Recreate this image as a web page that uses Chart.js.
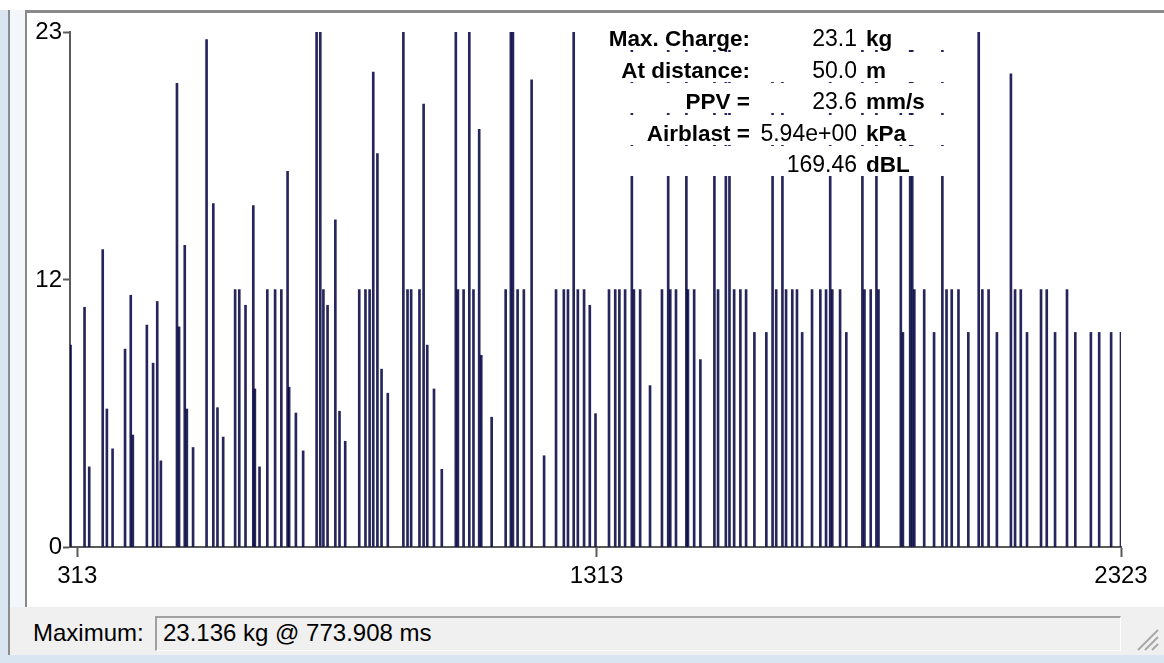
<!DOCTYPE html>
<html>
<head>
<meta charset="utf-8">
<script src="https://cdn.jsdelivr.net/npm/chart.js@4"></script>
<style>
  html, body { margin: 0; padding: 0; }
  body {
    width: 1164px; height: 663px; position: relative; overflow: hidden;
    background: #dae5f2;
    font-family: "Liberation Sans", Arial, sans-serif;
  }
  #topband { position: absolute; left: 0; top: 0; width: 1164px; height: 10px; background: #ffffff; }
  #win {
    position: absolute; left: 8px; top: 10px; width: 1156px; height: 645px;
    background: #f0f0f0; border-left: 2px solid #8c8c8c; box-sizing: border-box;
  }
  #margin { position: absolute; left: 10px; top: 10px; width: 15px; height: 597px; background: #f3f7fb; }
  #panel {
    position: absolute; left: 25px; top: 10px; width: 1150px; height: 597px;
    background: #ffffff; border-top: 3px solid #8a8a8a; border-left: 2px solid #8a8a8a;
    box-sizing: border-box;
  }
  #chart { position: absolute; left: 0; top: 0; }
  #maxLabel {
    position: absolute; left: 33px; top: 619px; font-size: 24px; color: #000;
  }
  #maxBox {
    position: absolute; left: 155px; top: 616px; width: 966px; height: 35px;
    box-sizing: border-box; border-top: 2px solid #a0a0a0; border-left: 2px solid #a0a0a0;
    border-right: 1px solid #ffffff; border-bottom: 1px solid #ffffff;
    background: #f0f0f0; font-size: 24px; color: #000; padding: 1px 0 0 6px;
  }
  #grip { position: absolute; left: 1132px; top: 624px; }
</style>
</head>
<body>
<div id="topband"></div>
<div id="win"></div>
<div id="margin"></div>
<div id="panel"></div>
<canvas id="chart" width="1164" height="607"></canvas>
<div id="maxLabel">Maximum:</div>
<div id="maxBox">23.136 kg @ 773.908 ms</div>
<svg id="grip" width="28" height="28">
  <g stroke="#a8a8a8" stroke-width="2">
    <line x1="26" y1="6" x2="6" y2="26"/>
    <line x1="26" y1="13" x2="13" y2="26"/>
    <line x1="26" y1="20" x2="20" y2="26"/>
  </g>
</svg>
<script>
// Firing times (ms) and charge weight per delay (kg)
const times = [
  300, 327, 336, 362, 370, 381, 405, 416, 420, 447, 459, 467, 474,
  505, 509, 520, 524, 536, 562, 575, 583, 594, 617, 625, 637,
  652, 655, 664, 679, 694, 706, 718, 721, 734, 748, 773.908, 781,
  787, 795, 810, 818, 829, 856, 868, 876, 883, 891, 899, 911,
  941, 949, 956, 972, 980, 987, 1000, 1015, 1042, 1046, 1057, 1068,
  1076, 1087, 1091, 1111, 1138, 1148, 1152, 1161, 1173, 1188, 1212, 1235,
  1250, 1258, 1269, 1277, 1289, 1300, 1311, 1337, 1349, 1357, 1368, 1381,
  1385, 1397, 1416, 1439, 1451, 1455, 1466, 1486, 1489, 1501, 1513, 1540,
  1547, 1562, 1569, 1578, 1590, 1601, 1617, 1640, 1652, 1659, 1671, 1678,
  1690, 1699, 1709, 1728, 1744, 1755, 1763, 1767, 1782, 1794, 1825, 1829,
  1841, 1852, 1856, 1899, 1903, 1917, 1921, 1925, 1944, 1963, 1979, 1987,
  1997, 2010, 2029, 2049, 2056, 2068, 2084, 2111, 2119, 2130, 2142, 2169,
  2180, 2196, 2219, 2235, 2265, 2281, 2304, 2323
];
const charges = [
  9.07, 10.77, 3.6, 13.36, 6.2, 4.41, 8.89, 11.31, 5.03, 9.97, 8.26, 11.03, 3.87,
  20.83, 9.89, 13.55, 6.2, 4.47, 22.8, 15.43, 6.26, 4.94, 11.57, 11.57, 10.86,
  15.34, 7.1, 3.6, 11.57, 11.57, 11.57, 16.88, 7.18, 6.02, 4.32, 23.136, 23.136,
  11.57, 10.86, 14.7, 6.1, 4.75, 11.57, 11.57, 11.57, 21.34, 17.67, 7.99, 6.91,
  23.136, 11.57, 11.57, 11.57, 19.9, 9.07, 7.1, 3.49, 23.136, 11.57, 11.57, 23.136,
  11.57, 18.76, 8.61, 5.83, 11.57, 23.136, 23.136, 11.57, 11.57, 20.99, 4.1, 11.57,
  11.57, 11.57, 23.136, 11.57, 11.57, 10.86, 5.99, 11.57, 11.57, 11.57, 11.57, 23.136,
  11.57, 11.57, 7.25, 11.57, 23.136, 11.57, 11.57, 23.136, 11.57, 11.57, 8.42, 23.136,
  11.57, 23.136, 23.136, 11.57, 11.57, 11.57, 9.64, 9.64, 21.5, 11.57, 21.5, 11.57,
  11.57, 11.57, 9.64, 11.57, 11.57, 11.57, 21.5, 11.57, 11.57, 9.64, 23.136, 11.57,
  11.57, 23.136, 11.57, 20.0, 9.64, 23.136, 23.136, 11.57, 11.57, 9.64, 23.136, 11.57,
  11.57, 11.57, 9.64, 23.136, 11.57, 11.57, 9.64, 21.26, 11.57, 11.57, 9.64, 11.57,
  11.57, 9.64, 11.57, 9.64, 9.64, 9.64, 9.64, 9.64
];
const xTicks = [313, 1313, 2323];
const yTicks = [0, 12, 23.136];

// Summary block printed inside the plot
const infoLabels = ['Max. Charge:', 'At distance:', 'PPV =', 'Airblast =', ''];
const infoValues = ['23.1', '50.0', '23.6', '5.94e+00', '169.46'];
const infoUnits  = ['kg', 'm', 'mm/s', 'kPa', 'dBL'];

const FONT = '"Liberation Sans", Arial, sans-serif';

const infoBox = {
  id: 'infoBox',
  afterDatasetsDraw(chart) {
    const ctx = chart.ctx;
    ctx.save();
    const left = 604, right = 948, rowH = 30;
    for (let i = 0; i < infoValues.length; i++) {
      const top = Math.round(20 + 31.5 * i);
      ctx.fillStyle = '#ffffff';
      ctx.fillRect(left, top, right - left, rowH);
      const base = top + 26;
      ctx.fillStyle = '#000000';
      ctx.textBaseline = 'alphabetic';
      ctx.font = 'bold 22.5px ' + FONT;
      ctx.textAlign = 'right';
      if (infoLabels[i]) ctx.fillText(infoLabels[i], 750, base);
      ctx.font = '23px ' + FONT;
      ctx.fillText(infoValues[i], 857, base);
      ctx.font = 'bold 22.5px ' + FONT;
      ctx.textAlign = 'left';
      ctx.fillText(infoUnits[i], 866, base);
    }
    ctx.restore();
  }
};

new Chart(document.getElementById('chart'), {
  type: 'bar',
  data: {
    datasets: [{
      data: times.map((t, i) => ({ x: t, y: charges[i] })),
      backgroundColor: 'rgba(0, 0, 64, 0.85)',
      borderWidth: 0,
      barThickness: 2,
      grouped: false
    }]
  },
  options: {
    responsive: false,
    animation: false,
    devicePixelRatio: 1,
    layout: { padding: { top: 32, right: 43, left: 0, bottom: 0 } },
    plugins: { legend: { display: false }, tooltip: { enabled: false } },
    scales: {
      x: {
        type: 'linear', min: 299, max: 2323, offset: false,
        afterBuildTicks(s) { s.ticks = xTicks.map(v => ({ value: v })); },
        afterFit(s) { s.height = 60; },
        grid: { offset: false, drawOnChartArea: false, drawTicks: true, tickLength: 10, tickWidth: 2, color: '#5a5a5a' },
        border: { display: true, color: '#5a5a5a', width: 2 },
        ticks: { color: '#000', font: { family: FONT, size: 24 }, padding: 5, maxRotation: 0, autoSkip: false,
                 callback: v => String(v) }
      },
      y: {
        min: 0, max: 23.136,
        afterBuildTicks(s) { s.ticks = yTicks.map(v => ({ value: v })); },
        afterFit(s) { s.width = 70; },
        grid: { offset: false, drawOnChartArea: false, drawTicks: true, tickLength: 7, tickWidth: 2, color: '#5a5a5a' },
        border: { display: true, color: '#5a5a5a', width: 2 },
        ticks: { color: '#000', font: { family: FONT, size: 24 }, padding: 1, autoSkip: false,
                 callback: v => String(Math.round(v)) }
      }
    }
  },
  plugins: [infoBox]
});
</script>
</body>
</html>
